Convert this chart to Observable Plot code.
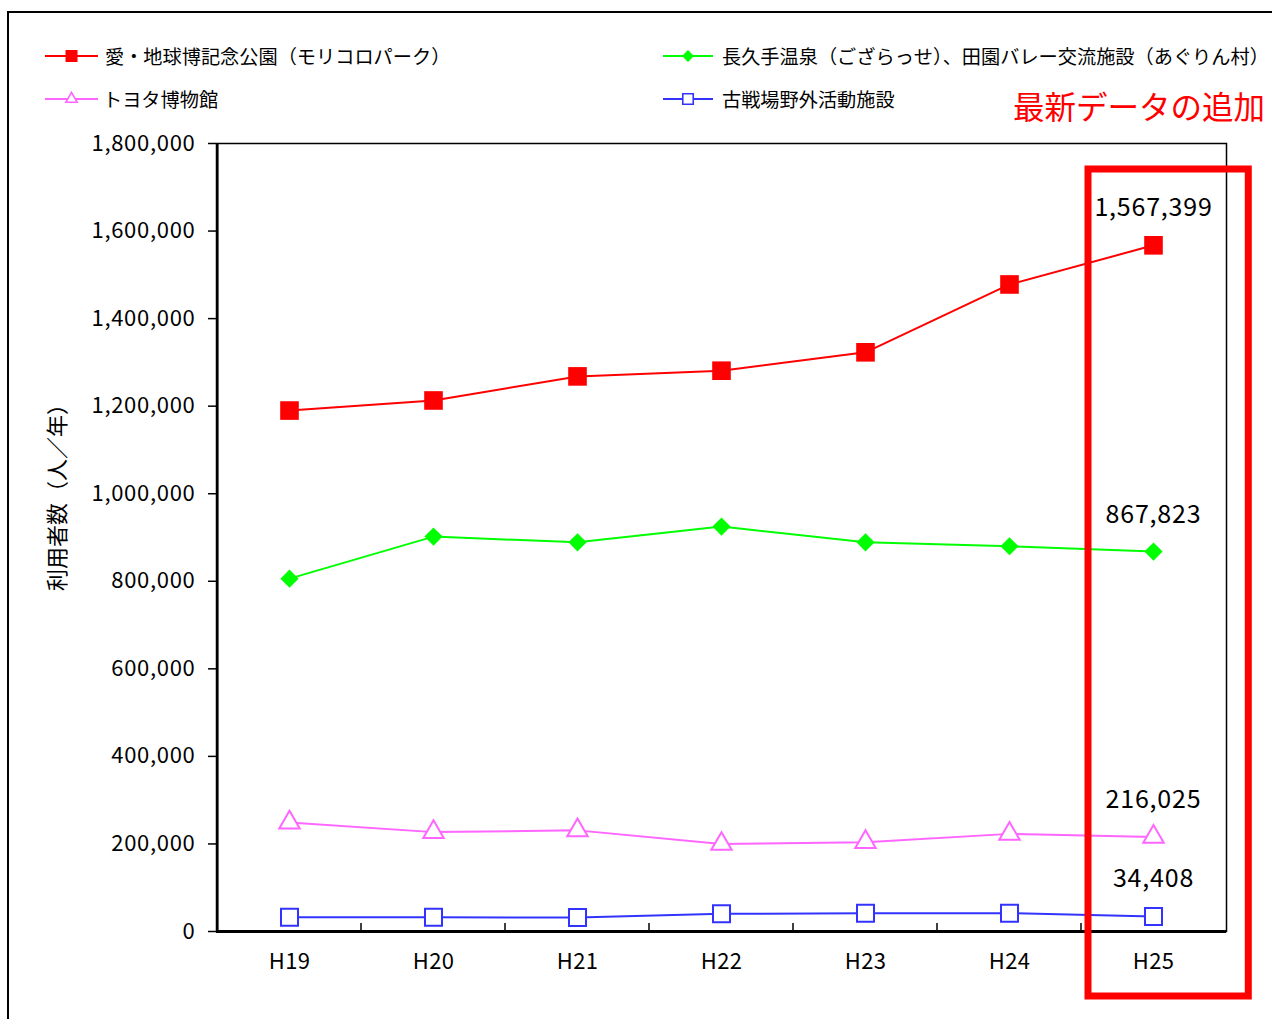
<!DOCTYPE html>
<html>
<head>
<meta charset="utf-8">
<script src="https://cdn.jsdelivr.net/npm/d3@7"></script>
<script src="https://cdn.jsdelivr.net/npm/@observablehq/plot@0.6"></script>
<style>
  html, body { margin: 0; padding: 0; background: #fff; overflow: hidden; }
  #wrap { position: relative; width: 1272px; height: 1019px; overflow: hidden; font-family: "Noto Sans CJK JP", sans-serif; }
  #border { position: absolute; left: 7px; top: 11px; width: 1400px; height: 1200px; border: 2px solid #000; box-sizing: border-box; }
  #chart { position: absolute; left: 0; top: 0; }
  g[aria-label^="y-axis tick"] text { letter-spacing: 0.7px; }
  g[aria-label^="x-axis tick"] text { letter-spacing: 0.3px; }
  g[aria-label="text"] text { letter-spacing: 0.8px; }
</style>
</head>
<body>
<div id="wrap"><div id="border"></div><div id="chart"></div></div>
<script>
// Fiscal years (Heisei era)
const years = ["H19", "H20", "H21", "H22", "H23", "H24", "H25"];

// Annual visitors per facility (people / year)
const moricoro = [1190000, 1213000, 1268000, 1281000, 1323000, 1478000, 1567399];
const onsen    = [806000, 902000, 889000, 925000, 889000, 880000, 867823];
const toyota   = [249000, 227000, 231000, 200000, 204000, 223000, 216025];
const kosenjo  = [32700, 32700, 31800, 40400, 41800, 41800, 34408];

const seriesNames = [
  "愛・地球博記念公園（モリコロパーク）",
  "長久手温泉（ござらっせ）、田園バレー交流施設（あぐりん村）",
  "トヨタ博物館",
  "古戦場野外活動施設"
];
const seriesValues = [moricoro, onsen, toyota, kosenjo];

const yTicks = [0, 200000, 400000, 600000, 800000, 1000000, 1200000, 1400000, 1600000, 1800000];
const yTitle = "利用者数（人／年）";
const note = "最新データの追加";

// Styling per series
const styles = [
  {color: "#ff0000", symbol: "square",   r: 10.5, fill: "#ff0000", stroke: "none", sw: 2},
  {color: "#00ff00", symbol: "diamond2", r: 8.2,  fill: "#00ff00", stroke: "none", sw: 2},
  {color: "#ff66ff", symbol: "triangle", r: 7.6,  fill: "#fff",    stroke: "#ff66ff", sw: 2},
  {color: "#3333ff", symbol: "square",   r: 9.6,  fill: "#fff",    stroke: "#3333ff", sw: 2}
];

const rows = seriesNames.flatMap((name, s) =>
  years.map((year, i) => ({series: name, s, year, value: seriesValues[s][i]})));
const latest = rows.filter(d => d.year === years[years.length - 1]);

const W = 1272, H = 1019, mL = 216, mT = 143, mR = 46, mB = 88;
const bw = (W - mL - mR) / years.length;
const fmt = d3.format(",");
const font = "'Noto Sans CJK JP', sans-serif";

const seriesMarks = styles.flatMap((st, s) => {
  const data = rows.filter(d => d.s === s);
  return [
    Plot.line(data, {x: "year", y: "value", stroke: st.color, strokeWidth: st.sw}),
    Plot.dot(data, {x: "year", y: "value", symbol: st.symbol, r: st.r, fill: st.fill,
      stroke: st.stroke, strokeWidth: st.stroke === "none" ? 0 : 2})
  ];
});

const plot = Plot.plot({
  width: W, height: H,
  marginLeft: mL, marginTop: mT, marginRight: mR, marginBottom: mB,
  style: {fontFamily: font, background: "transparent", overflow: "visible", color: "#000"},
  x: {type: "band", domain: years, padding: 0, label: null},
  y: {domain: [0, 1800000], label: null},
  marks: [
    Plot.frame({stroke: "#000", strokeWidth: 1.5}),
    Plot.axisY({ticks: yTicks, tickFormat: fmt, tickSize: 8, tickPadding: 13, fontSize: 22,
      strokeWidth: 1.5, label: null}),
    Plot.axisX({tickSize: 0, tickPadding: 22, fontSize: 22, label: null}),
    Plot.ruleY([0], {strokeWidth: 3}),
    Plot.ruleX([years[0]], {dx: -bw / 2, strokeWidth: 2.5}),
    ...seriesMarks,
    Plot.text(latest, {x: "year", y: "value", text: d => fmt(d.value), dy: -37, fontSize: 25, fill: "#000"})
  ]
});

document.getElementById("chart").appendChild(plot);

const svg = d3.select(plot);
const xs = plot.scale("x");
const bandStart = v => (xs && xs.apply) ? xs.apply(v) : mL + years.indexOf(v) * bw;

// Category boundary ticks pointing up into the plot
svg.append("g").selectAll("line").data(years.slice(1)).join("line")
  .attr("x1", d => bandStart(d)).attr("x2", d => bandStart(d))
  .attr("y1", H - mB - 8).attr("y2", H - mB)
  .attr("stroke", "#000").attr("stroke-width", 1.5);

// Highlight box around the latest year
const last = years[years.length - 1];
svg.append("rect")
  .attr("x", bandStart(last) + 7)
  .attr("y", mT + 26)
  .attr("width", bw + 16)
  .attr("height", H - mB - mT + 39)
  .attr("fill", "none").attr("stroke", "#ff0000").attr("stroke-width", 7);

// Y axis title
svg.append("text")
  .attr("transform", `translate(55,${(mT + H - mB) / 2 - 45}) rotate(-90)`)
  .attr("text-anchor", "middle").attr("dominant-baseline", "central")
  .attr("font-family", font).attr("font-size", 22).attr("fill", "#000")
  .text(yTitle);

// Legend
const legendPos = [
  {x0: 45, x1: 98, tx: 105, y: 56},
  {x0: 663, x1: 713, tx: 722, y: 56},
  {x0: 45, x1: 98, tx: 103, y: 99},
  {x0: 663, x1: 713, tx: 722, y: 99}
];
const legendSym = {square: d3.symbolSquare, diamond2: d3.symbolDiamond2, triangle: d3.symbolTriangle};
const legendSize = [144, 90, 56, 110];
const lg = svg.append("g").attr("text-anchor", "start");
seriesNames.forEach((name, s) => {
  const p = legendPos[s], st = styles[s];
  const cx = (p.x0 + p.x1) / 2;
  lg.append("line").attr("x1", p.x0).attr("x2", p.x1).attr("y1", p.y).attr("y2", p.y)
    .attr("stroke", st.color).attr("stroke-width", 2);
  lg.append("path")
    .attr("d", d3.symbol(legendSym[st.symbol], legendSize[s])())
    .attr("transform", `translate(${cx},${p.y})`)
    .attr("fill", st.fill).attr("stroke", st.stroke === "none" ? null : st.stroke)
    .attr("stroke-width", 1.6);
  lg.append("text").attr("x", p.tx).attr("y", p.y)
    .attr("text-anchor", "start").attr("dominant-baseline", "central")
    .attr("font-family", font).attr("font-size", 19.2).attr("fill", "#000")
    .text(name);
});

// Annotation for the newly added year
svg.append("text")
  .attr("x", 1265).attr("y", 105)
  .attr("text-anchor", "end").attr("dominant-baseline", "central")
  .attr("font-family", font).attr("font-size", 31.5).attr("fill", "#ff0000")
  .text(note);
</script>
</body>
</html>
